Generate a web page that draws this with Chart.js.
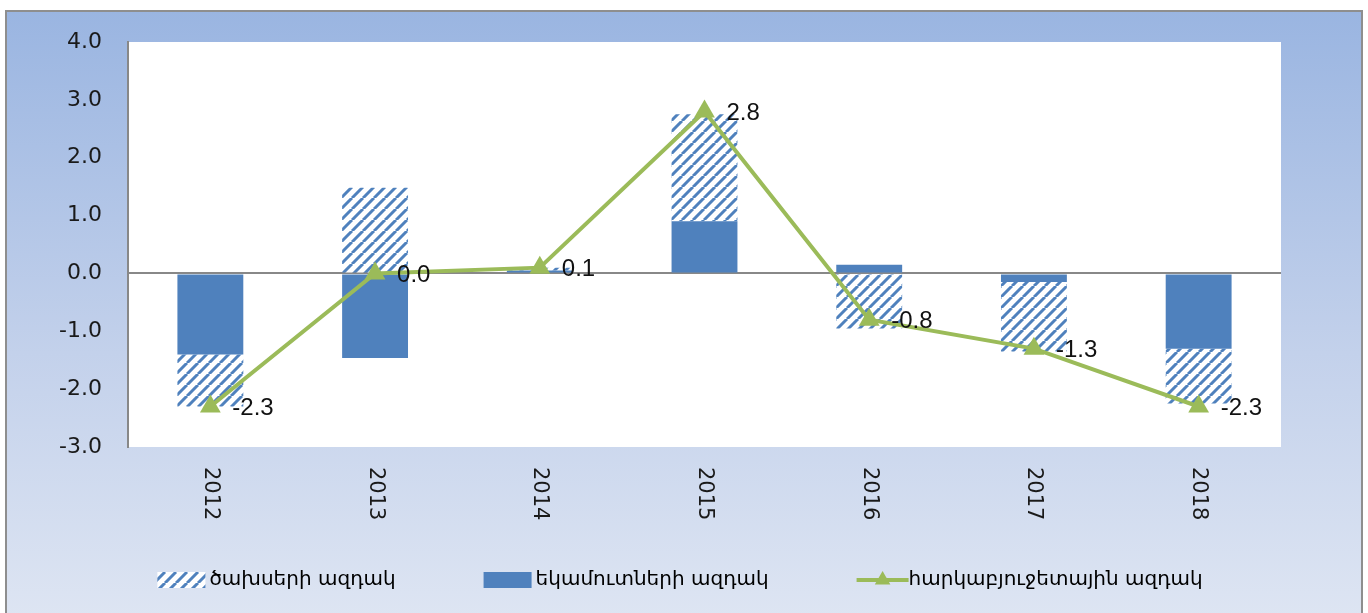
<!DOCTYPE html>
<html>
<head>
<meta charset="utf-8">
<script src="https://cdn.jsdelivr.net/npm/chart.js@4.4.0/dist/chart.umd.min.js"></script>
<style>
  html, body { margin: 0; padding: 0; background: #fff; }
  #marco {
    position: absolute; left: 5px; top: 10px; width: 1354px; height: 620px;
    border: 2px solid #8e8e8e;
    background: linear-gradient(to bottom, #9ab5e1 0%, #c3d1eb 55%, #dfe6f3 100%);
  }
  #contenedor { position: absolute; left: 0; top: 0; width: 1368px; height: 613px; }
</style>
</head>
<body>
<div id="marco"></div>
<div id="contenedor"><canvas id="grafica" width="1368" height="613"></canvas></div>
<script>
// Datos
const anios = ['2012', '2013', '2014', '2015', '2016', '2017', '2018'];
const gastos = [-0.9, 1.48, 0.05, 1.85, -0.95, -1.2, -0.95];      // ծախսերի ազդակ
const ingresos = [-1.4, -1.46, 0.05, 0.9, 0.15, -0.15, -1.3];     // եկամուտների ազդակ
const fiscal = [-2.3, 0.0, 0.1, 2.8, -0.8, -1.3, -2.3];           // հարկաբյուջետային ազդակ
const nombres = ['ծախսերի ազդակ', 'եկամուտների ազդակ', 'հարկաբյուջետային ազդակ'];

const azul = '#4f81bd';
const verde = '#9bbb59';

// Rayado diagonal para la serie de gastos
function crearRayado() {
  const t = 11;
  const c = document.createElement('canvas');
  c.width = t; c.height = t;
  const g = c.getContext('2d');
  g.fillStyle = '#fff';
  g.fillRect(0, 0, t, t);
  g.strokeStyle = azul;
  g.lineWidth = 3;
  g.beginPath();
  for (let k = -t; k <= t; k += t) { g.moveTo(k, t); g.lineTo(k + t, 0); }
  g.stroke();
  return g.createPattern(c, 'repeat');
}
const rayado = crearRayado();

// Fondo blanco del área de trazado
const fondoArea = {
  id: 'fondoArea',
  beforeDraw(chart) {
    const { ctx, chartArea: a } = chart;
    ctx.save();
    ctx.fillStyle = '#fff';
    ctx.fillRect(a.left, a.top, a.right - a.left, a.bottom - a.top);
    ctx.restore();
  }
};

// Etiquetas de valores de la línea
const etiquetas = {
  id: 'etiquetas',
  afterDatasetsDraw(chart) {
    const ctx = chart.ctx;
    const meta = chart.getDatasetMeta(2);
    ctx.save();
    ctx.font = '24px "Liberation Sans", Arial, sans-serif';
    ctx.fillStyle = '#111';
    ctx.textAlign = 'left';
    ctx.textBaseline = 'middle';
    meta.data.forEach((p, i) => ctx.fillText(fiscal[i].toFixed(1), p.x + 22, p.y + 2));
    ctx.restore();
  }
};

// Años en vertical (girados en sentido horario)
const etiquetasX = {
  id: 'etiquetasX',
  afterDraw(chart) {
    const ctx = chart.ctx;
    const x = chart.scales.x;
    ctx.save();
    ctx.font = '21px "DejaVu Sans", sans-serif';
    ctx.fillStyle = '#1a1a1a';
    ctx.textAlign = 'left';
    ctx.textBaseline = 'middle';
    anios.forEach((a, i) => {
      ctx.save();
      ctx.translate(x.getPixelForValue(i), chart.chartArea.bottom + 20);
      ctx.rotate(Math.PI / 2);
      ctx.fillText(a, 0, 0);
      ctx.restore();
    });
    ctx.restore();
  }
};

// Leyenda dibujada a mano
const leyenda = {
  id: 'leyenda',
  afterDraw(chart) {
    const ctx = chart.ctx;
    const y = 580;
    const anchoMuestra = 48, hueco = 4, separacion = 88;
    ctx.save();
    ctx.font = '20px "DejaVu Sans", sans-serif';
    ctx.textBaseline = 'middle';
    ctx.fillStyle = '#000';
    const anchos = nombres.map(n => ctx.measureText(n).width);
    const total = anchos.reduce((s, w) => s + anchoMuestra + hueco + w, 0) + separacion * (nombres.length - 1);
    let x = 680 - total / 2;
    nombres.forEach((n, i) => {
      if (i === 0) {
        ctx.fillStyle = rayado;
        ctx.fillRect(x, y - 8, anchoMuestra, 16);
      } else if (i === 1) {
        ctx.fillStyle = azul;
        ctx.fillRect(x, y - 8, anchoMuestra, 16);
      } else {
        ctx.strokeStyle = verde;
        ctx.lineWidth = 4;
        ctx.beginPath();
        ctx.moveTo(x, y); ctx.lineTo(x + anchoMuestra + 4, y);
        ctx.stroke();
        const r = 9, cx = x + anchoMuestra / 2 + 2;
        ctx.fillStyle = verde;
        ctx.beginPath();
        ctx.moveTo(cx, y - r);
        ctx.lineTo(cx + r * 0.866, y + r / 2);
        ctx.lineTo(cx - r * 0.866, y + r / 2);
        ctx.closePath();
        ctx.fill();
      }
      ctx.fillStyle = '#000';
      ctx.fillText(n, x + anchoMuestra + hueco, y);
      x += anchoMuestra + hueco + anchos[i] + separacion;
    });
    ctx.restore();
  }
};

const ctx = document.getElementById('grafica').getContext('2d');
new Chart(ctx, {
  type: 'bar',
  data: {
    labels: anios,
    datasets: [
      { label: nombres[0], data: gastos, backgroundColor: rayado, borderWidth: 0, stack: 'a', order: 2,
        categoryPercentage: 1, barPercentage: 0.4 },
      { label: nombres[1], data: ingresos, backgroundColor: azul, borderWidth: 0, stack: 'a', order: 1,
        categoryPercentage: 1, barPercentage: 0.4 },
      { type: 'line', label: nombres[2], data: fiscal, stack: 'linea', order: 0,
        borderColor: verde, backgroundColor: verde, borderWidth: 4, tension: 0,
        pointStyle: 'triangle', pointRadius: 12, pointBorderWidth: 0 }
    ]
  },
  options: {
    responsive: false,
    animation: false,
    layout: { padding: { left: 0, right: 87, top: 42, bottom: 0 } },
    plugins: { legend: { display: false }, tooltip: { enabled: false } },
    scales: {
      x: {
        stacked: true,
        grid: { display: false },
        border: { display: false },
        ticks: { display: false },
        afterFit(s) { s.height = 166; }
      },
      y: {
        stacked: true,
        min: -3, max: 4,
        ticks: {
          stepSize: 1,
          padding: 26,
          color: '#1a1a1a',
          font: { family: 'DejaVu Sans', size: 22 },
          callback: v => v.toFixed(1)
        },
        grid: {
          drawTicks: false,
          lineWidth: 2,
          color: c => c.tick && c.tick.value === 0 ? '#888' : 'rgba(0,0,0,0)'
        },
        border: { display: true, color: '#888', width: 2 },
        afterFit(s) { s.width = 128; }
      }
    }
  },
  plugins: [fondoArea, etiquetas, etiquetasX, leyenda]
});
</script>
</body>
</html>
